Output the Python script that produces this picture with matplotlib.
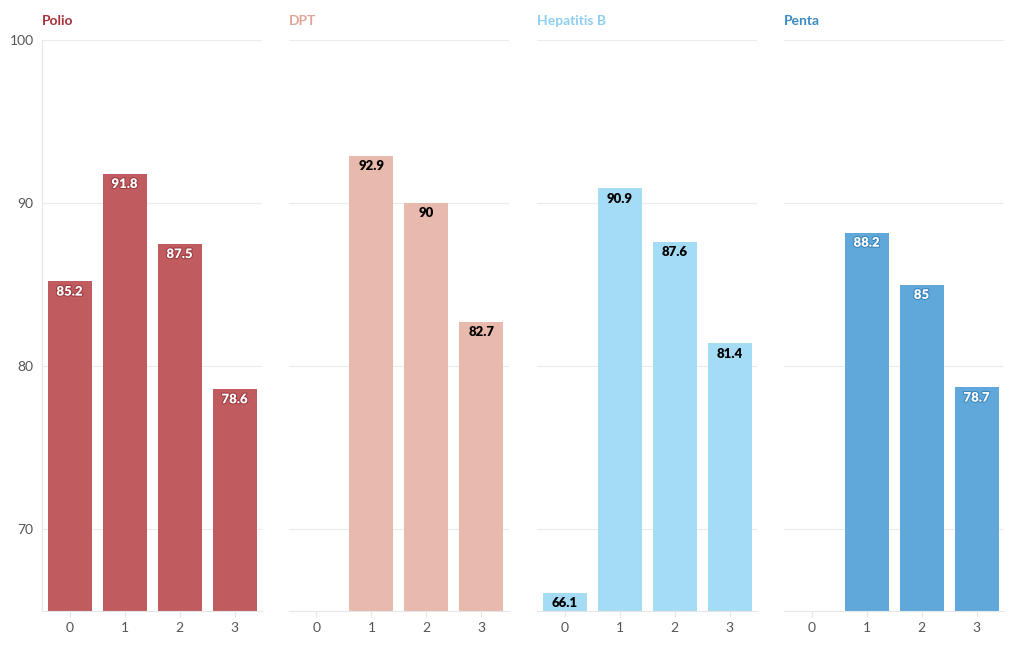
import matplotlib
matplotlib.use("Agg")
import matplotlib.pyplot as plt
import matplotlib.patheffects as pe
import numpy as np

plt.rcParams['font.family'] = ['Lato', 'DejaVu Sans']

categories = [0, 1, 2, 3]
vaccines = ["Polio", "DPT", "Hepatitis B", "Penta"]
polio = [85.2, 91.8, 87.5, 78.6]
dpt = [np.nan, 92.9, 90.0, 82.7]
hepb = [66.1, 90.9, 87.6, 81.4]
penta = [np.nan, 88.2, 85.0, 78.7]
series = [polio, dpt, hepb, penta]

bar_colors = ["#c05c60", "#e8b9ad", "#a5dcf5", "#5fa8d9"]
title_colors = ["#a8323a", "#e0a595", "#8ecfee", "#3a8ac6"]
label_colors = ["white", "black", "black", "white"]
stroke_colors = ["#9e3a40", None, None, "#3d86bd"]
yticks = [70, 80, 90, 100]

fig = plt.figure(figsize=(10.2, 6.5), dpi=100)
W, H = 1020, 650
lefts = [42, 289, 537, 784]
aw = 220
top, bottom = 40, 611

for i, (name, vals) in enumerate(zip(vaccines, series)):
    ax = fig.add_axes([lefts[i] / W, 1 - bottom / H, aw / W, (bottom - top) / H])
    ax.set_xlim(-0.5, 3.5)
    ax.set_ylim(65, 100)
    ax.set_yticks(yticks)
    ax.grid(axis='y', color='#ececec', linewidth=0.8)
    ax.set_axisbelow(True)
    ax.bar(categories, vals, width=0.8, color=bar_colors[i], zorder=2)
    for x, v in zip(categories, vals):
        if np.isnan(v):
            continue
        txt = ("%.1f" % v).rstrip('0').rstrip('.')
        t = ax.annotate(txt, (x, v), xytext=(0, -3), textcoords='offset points',
                        ha='center', va='top', fontsize=9.5, fontweight='heavy',
                        color=label_colors[i], zorder=3)
        if stroke_colors[i]:
            t.set_path_effects([pe.withStroke(linewidth=1.5, foreground=stroke_colors[i])])
    for s in ['top', 'right']:
        ax.spines[s].set_visible(False)
    ax.spines['bottom'].set_color('#e6e6e6')
    ax.spines['bottom'].set_linewidth(0.8)
    if i == 0:
        ax.spines['left'].set_color('#e6e6e6')
        ax.spines['left'].set_linewidth(0.8)
        ax.tick_params(axis='y', length=0, labelsize=10, labelcolor='#555555', pad=6)
    else:
        ax.spines['left'].set_visible(False)
        ax.tick_params(axis='y', length=0, labelleft=False)
    ax.set_xticks(categories)
    ax.tick_params(axis='x', length=4, color='#e6e6e6', labelsize=10, labelcolor='#555555', pad=4)
    ax.text(0, 1.0 + 19 / (bottom - top), name, transform=ax.transAxes, ha='left', va='center',
            fontsize=10, fontweight='bold', color=title_colors[i])

fig.savefig("out.png", dpi=100, facecolor='white')
